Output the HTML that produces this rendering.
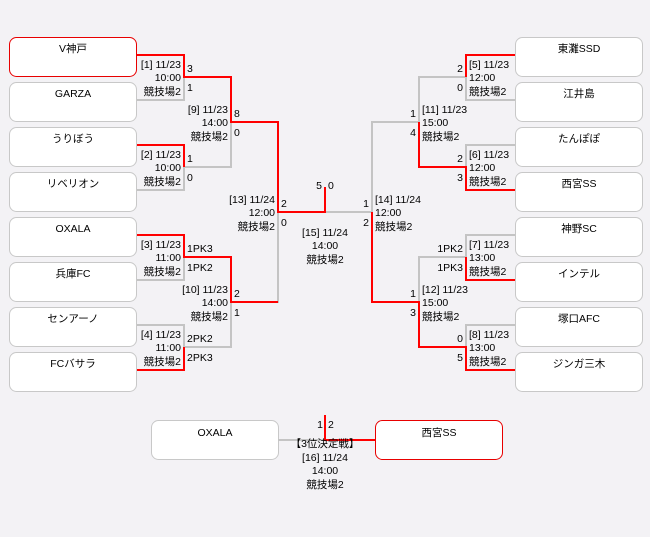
<!DOCTYPE html>
<html><head><meta charset="utf-8"><style>
html,body{margin:0;padding:0;background:#f3f2f5;}
svg{display:block;font-family:"Liberation Sans","Noto Sans CJK JP",sans-serif;font-size:10.5px;fill:#000;}
</style></head><body>
<svg width="650" height="537" viewBox="0 0 650 537" xmlns="http://www.w3.org/2000/svg">
<rect width="650" height="537" fill="#f3f2f5"/>
<g fill="#fff" stroke="#c8c8c8" stroke-width="1">
<rect x="9.5" y="82.5" width="127" height="39" rx="7"/>
<rect x="9.5" y="127.5" width="127" height="39" rx="7"/>
<rect x="9.5" y="172.5" width="127" height="39" rx="7"/>
<rect x="9.5" y="217.5" width="127" height="39" rx="7"/>
<rect x="9.5" y="262.5" width="127" height="39" rx="7"/>
<rect x="9.5" y="307.5" width="127" height="39" rx="7"/>
<rect x="9.5" y="352.5" width="127" height="39" rx="7"/>
<rect x="515.5" y="37.5" width="127" height="39" rx="7"/>
<rect x="515.5" y="82.5" width="127" height="39" rx="7"/>
<rect x="515.5" y="127.5" width="127" height="39" rx="7"/>
<rect x="515.5" y="172.5" width="127" height="39" rx="7"/>
<rect x="515.5" y="217.5" width="127" height="39" rx="7"/>
<rect x="515.5" y="262.5" width="127" height="39" rx="7"/>
<rect x="515.5" y="307.5" width="127" height="39" rx="7"/>
<rect x="515.5" y="352.5" width="127" height="39" rx="7"/>
<rect x="151.5" y="420.5" width="127" height="39" rx="7"/>
</g>
<g fill="#fff" stroke="#e80000" stroke-width="1">
<rect x="9.5" y="37.5" width="127" height="39" rx="7"/>
<rect x="375.5" y="420.5" width="127" height="39" rx="7"/>
</g>
<g fill="none" stroke="#c4c4c4" stroke-width="2">
<!-- left gray -->
<path d="M137 100H184V77"/>
<path d="M137 190H184V167"/>
<path d="M137 280H184V257"/>
<path d="M137 325H184V347"/>
<path d="M184 167H231V122"/>
<path d="M184 347H231V302"/>
<path d="M231 302H278V212"/>
<!-- right gray -->
<path d="M515 100H466V77"/>
<path d="M515 145H466V167"/>
<path d="M515 235H466V257"/>
<path d="M515 325H466V347"/>
<path d="M466 77H419V122"/>
<path d="M466 257H419V302"/>
<path d="M419 122H372V212H325"/>
<path d="M278 440H325"/>
</g>
<g fill="none" stroke="#ff0000" stroke-width="2">
<path d="M137 55H184V77H231V122H278V212H325V187"/>
<path d="M137 145H184V167"/>
<path d="M137 235H184V257H231V302H278"/>
<path d="M137 370H184V347"/>
<path d="M515 55H466V77"/>
<path d="M515 190H466V167H419V122"/>
<path d="M515 280H466V257"/>
<path d="M515 370H466V347H419V302H372V212"/>
<path d="M375 440H325V415"/>
</g>
<g text-anchor="middle">
<text x="73" y="52">V神戸</text>
<text x="73" y="97">GARZA</text>
<text x="73" y="142">うりぼう</text>
<text x="73" y="187">リベリオン</text>
<text x="73" y="232">OXALA</text>
<text x="73" y="277">兵庫FC</text>
<text x="73" y="322">センアーノ</text>
<text x="73" y="367">FCバサラ</text>
<text x="579" y="52">東灘SSD</text>
<text x="579" y="97">江井島</text>
<text x="579" y="142">たんぽぽ</text>
<text x="579" y="187">西宮SS</text>
<text x="579" y="232">神野SC</text>
<text x="579" y="277">インテル</text>
<text x="579" y="322">塚口AFC</text>
<text x="579" y="367">ジンガ三木</text>
<text x="215" y="436">OXALA</text>
<text x="439" y="436">西宮SS</text>
<text x="325" y="236">[15] 11/24</text>
<text x="325" y="249">14:00</text>
<text x="325" y="263">競技場2</text>
<text x="325" y="447">【3位決定戦】</text>
<text x="325" y="461">[16] 11/24</text>
<text x="325" y="474">14:00</text>
<text x="325" y="488">競技場2</text>
</g>
<g text-anchor="end">
<text x="181" y="68">[1] 11/23</text><text x="181" y="81">10:00</text><text x="181" y="95">競技場2</text>
<text x="181" y="158">[2] 11/23</text><text x="181" y="171">10:00</text><text x="181" y="185">競技場2</text>
<text x="181" y="248">[3] 11/23</text><text x="181" y="261">11:00</text><text x="181" y="275">競技場2</text>
<text x="181" y="338">[4] 11/23</text><text x="181" y="351">11:00</text><text x="181" y="365">競技場2</text>
<text x="228" y="113">[9] 11/23</text><text x="228" y="126">14:00</text><text x="228" y="140">競技場2</text>
<text x="228" y="293">[10] 11/23</text><text x="228" y="306">14:00</text><text x="228" y="320">競技場2</text>
<text x="275" y="203">[13] 11/24</text><text x="275" y="216">12:00</text><text x="275" y="230">競技場2</text>
<text x="463" y="72">2</text><text x="463" y="91">0</text>
<text x="463" y="162">2</text><text x="463" y="181">3</text>
<text x="463" y="252">1PK2</text><text x="463" y="271">1PK3</text>
<text x="463" y="342">0</text><text x="463" y="361">5</text>
<text x="416" y="117">1</text><text x="416" y="136">4</text>
<text x="416" y="297">1</text><text x="416" y="316">3</text>
<text x="369" y="207">1</text><text x="369" y="226">2</text>
<text x="322" y="189">5</text>
<text x="323" y="428">1</text>
</g>
<g>
<text x="187" y="72">3</text><text x="187" y="91">1</text>
<text x="187" y="162">1</text><text x="187" y="181">0</text>
<text x="187" y="252">1PK3</text><text x="187" y="271">1PK2</text>
<text x="187" y="342">2PK2</text><text x="187" y="361">2PK3</text>
<text x="234" y="117">8</text><text x="234" y="136">0</text>
<text x="234" y="297">2</text><text x="234" y="316">1</text>
<text x="281" y="207">2</text><text x="281" y="226">0</text>
<text x="328" y="189">0</text>
<text x="328" y="428">2</text>
<text x="469" y="68">[5] 11/23</text><text x="469" y="81">12:00</text><text x="469" y="95">競技場2</text>
<text x="469" y="158">[6] 11/23</text><text x="469" y="171">12:00</text><text x="469" y="185">競技場2</text>
<text x="469" y="248">[7] 11/23</text><text x="469" y="261">13:00</text><text x="469" y="275">競技場2</text>
<text x="469" y="338">[8] 11/23</text><text x="469" y="351">13:00</text><text x="469" y="365">競技場2</text>
<text x="422" y="113">[11] 11/23</text><text x="422" y="126">15:00</text><text x="422" y="140">競技場2</text>
<text x="422" y="293">[12] 11/23</text><text x="422" y="306">15:00</text><text x="422" y="320">競技場2</text>
<text x="375" y="203">[14] 11/24</text><text x="375" y="216">12:00</text><text x="375" y="230">競技場2</text>
</g>
</svg>
</body></html>
